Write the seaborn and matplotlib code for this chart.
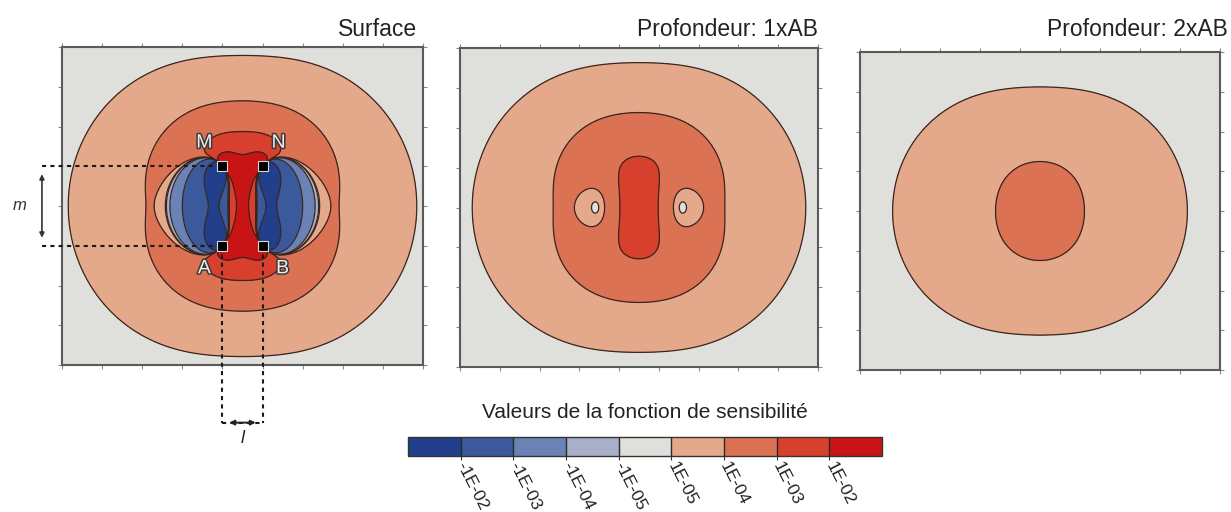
import numpy as np
import matplotlib
matplotlib.use("Agg")
import matplotlib.pyplot as plt
import matplotlib.patheffects as pe
from matplotlib.colors import ListedColormap, BoundaryNorm
from matplotlib.cm import ScalarMappable
import seaborn as sns

sns.set_theme(style="white")
plt.rcParams['font.family'] = ['Liberation Sans', 'DejaVu Sans']

# Electrode layout (units of AB spacing): current pair A-B, potential pair M-N
electrode_names = ['A', 'B', 'M', 'N']
electrode_x = [-0.5, 0.5, -0.5, 0.5]
electrode_y = [-1.0, -1.0, 1.0, 1.0]

# Depth of each slice, in multiples of AB
depths = [0.0, 1.0, 2.0]
panel_titles = ['Surface', 'Profondeur: 1xAB', 'Profondeur: 2xAB']

# Class boundaries of the sensitivity function (symmetric, logarithmic)
pos_levels = [1e-5, 1e-4, 1e-3, 1e-2]
tick_labels = ['-1E-02', '-1E-03', '-1E-04', '-1E-05', '1E-05', '1E-04', '1E-03', '1E-02']
class_colors = ['#223f8c', '#3b5a9c', '#6a83b4', '#a7afc9', '#dfe0dc',
                '#e4a98b', '#da7253', '#d6402c', '#c81414']

levels = [-10.0] + [-v for v in pos_levels[::-1]] + pos_levels + [10.0]


def sensitivity(X, Y, z):
    """3D Frechet sensitivity of a four-electrode array over a homogeneous half-space."""
    A = (electrode_x[0], electrode_y[0])
    B = (electrode_x[1], electrode_y[1])
    M = (electrode_x[2], electrode_y[2])
    N = (electrode_x[3], electrode_y[3])

    def pair(c, p):
        cx, cy = X - c[0], Y - c[1]
        px, py = X - p[0], Y - p[1]
        dot = cx * px + cy * py + z * z
        rc = (cx ** 2 + cy ** 2 + z * z) ** 1.5
        rp = (px ** 2 + py ** 2 + z * z) ** 1.5
        return dot / (rc * rp)

    s = pair(A, M) - pair(A, N) - pair(B, M) + pair(B, N)
    return np.clip(s / (4 * np.pi ** 2), -5.0, 5.0)


xg = np.linspace(-4.5, 4.5, 731)
yg = np.linspace(-4.0, 4.0, 651)
X, Y = np.meshgrid(xg, yg)

fig = plt.figure(figsize=(12.31, 5.12), dpi=100)
fig.patch.set_facecolor('white')

axes_rects = [
    [62 / 1231, 1 - 365 / 512, 361 / 1231, 318 / 512],
    [460 / 1231, 1 - 367 / 512, 358 / 1231, 319 / 512],
    [860 / 1231, 1 - 370 / 512, 360 / 1231, 318 / 512],
]
title_x = [417 / 1231, 818 / 1231, 1228 / 1231]
title_y = 1 - 30 / 512

line_col = '#3a2520'

for i, (rect, z) in enumerate(zip(axes_rects, depths)):
    ax = fig.add_axes(rect)
    S = sensitivity(X, Y, z)
    ax.contourf(X, Y, S, levels=levels, colors=class_colors)
    ax.contour(X, Y, S, levels=levels[1:-1], colors=line_col, linewidths=0.9,
               linestyles='solid')
    ax.set_xlim(-4.5, 4.5)
    ax.set_ylim(-4.0, 4.0)
    ax.set_xticks(np.arange(-4.5, 4.51, 1.0))
    ax.set_yticks(np.arange(-4.0, 4.01, 1.0))
    ax.set_xticklabels([])
    ax.set_yticklabels([])
    ax.tick_params(which='both', direction='out', length=3, width=0.8, color='#8a8a8a',
                   top=True, right=True, bottom=True, left=True)
    for sp in ax.spines.values():
        sp.set_color('#5a5a5a')
        sp.set_linewidth(1.5)
    fig.text(title_x[i], title_y, panel_titles[i], ha='right', va='center',
             fontsize=16.5, color='#222222')

    if i == 0:
        dash = dict(color='#1a1a1a', lw=1.5, ls=(0, (2.0, 2.0)), clip_on=False, zorder=6)
        xa, xb = electrode_x[0], electrode_x[1]
        ya, ym = electrode_y[0], electrode_y[2]
        xl = -5.0
        yb = -5.45
        # spacing m between the two electrode rows
        ax.plot([xl, xa], [ym, ym], **dash)
        ax.plot([xl, xa], [ya, ya], **dash)
        ax.annotate('', xy=(xl, -0.8), xytext=(xl, 0.8), annotation_clip=False,
                    arrowprops=dict(arrowstyle='<|-|>', color='#333333', lw=1.2,
                                    mutation_scale=7, shrinkA=0, shrinkB=0), zorder=6)
        ax.text(-5.55, 0.0, 'm', style='italic', fontsize=12, ha='center', va='center',
                color='#333333', clip_on=False)
        # spacing l between A and B
        ax.plot([xa, xa], [ya, yb], **dash)
        ax.plot([xb, xb], [ya, yb], **dash)
        ax.plot([xa, xb], [yb, yb], **dash)
        ax.annotate('', xy=(0.33, yb), xytext=(-0.33, yb), annotation_clip=False,
                    arrowprops=dict(arrowstyle='<|-|>', color='#222222', lw=1.4,
                                    mutation_scale=7, shrinkA=0, shrinkB=0), zorder=7)
        ax.text(0.0, -5.85, 'l', style='italic', fontsize=13, ha='center', va='center',
                color='#222222', clip_on=False)
        # electrodes
        ax.plot(electrode_x, electrode_y, ls='none', marker='s', ms=7.5, mfc='black',
                mec='#d8d8d8', mew=0.8, zorder=8)
        label_off = {'A': (-0.95, -1.58), 'B': (1.0, -1.58), 'M': (-0.95, 1.58), 'N': (0.9, 1.58)}
        for nm in electrode_names:
            tx, ty = label_off[nm]
            ax.text(tx, ty, nm, fontsize=14, ha='center', va='center', color='#eeeeee',
                    zorder=9, path_effects=[pe.withStroke(linewidth=2.2, foreground='#3a3a3a')])

# Colour scale
cax = fig.add_axes([408 / 1231, 1 - 456 / 512, 474 / 1231, 19 / 512])
cmap = ListedColormap(class_colors)
norm = BoundaryNorm(np.arange(10), cmap.N)
sm = ScalarMappable(norm=norm, cmap=cmap)
cb = fig.colorbar(sm, cax=cax, orientation='horizontal', drawedges=True,
                  ticks=np.arange(1, 9))
cb.minorticks_off()
cb.outline.set_edgecolor('#333333')
cb.outline.set_linewidth(1.0)
cb.dividers.set_color('#2a2a2a')
cb.dividers.set_linewidth(1.0)
cax.set_xticklabels(tick_labels, rotation=-63, ha='left', va='center',
                    rotation_mode='anchor', fontsize=12.5, color='#222222')
cax.tick_params(axis='x', which='major', direction='out', length=3, width=0.8,
                color='#333333', pad=2)
cax.tick_params(axis='x', which='minor', length=0)
fig.text(645 / 1231, 1 - 413 / 512, 'Valeurs de la fonction de sensibilité',
         ha='center', va='center', fontsize=15, color='#222222')

fig.savefig('out.png', dpi=100, facecolor='white')
